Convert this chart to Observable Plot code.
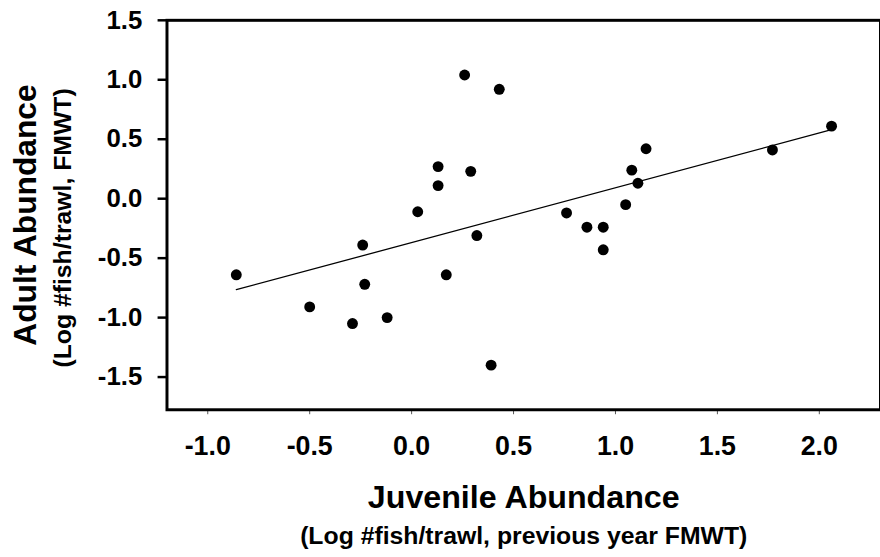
<!DOCTYPE html>
<html>
<head>
<meta charset="utf-8">
<script src="https://cdn.jsdelivr.net/npm/d3@7"></script>
<script src="https://cdn.jsdelivr.net/npm/@observablehq/plot@0.6"></script>
<style>
  html, body { margin: 0; padding: 0; background: white; overflow: hidden; }
</style>
</head>
<body>
<div id="chart"></div>
<script>
// juvenile (previous year) vs adult abundance, log #fish/trawl
const juvenile = [-0.86, -0.50, -0.29, -0.24, -0.23, -0.12, 0.03, 0.13, 0.13, 0.17,
                  0.26, 0.29, 0.32, 0.39, 0.43, 0.76, 0.86, 0.94, 0.94, 1.05,
                  1.08, 1.11, 1.15, 1.77, 2.06];
const adult = [-0.64, -0.91, -1.05, -0.39, -0.72, -1.00, -0.11, 0.27, 0.11, -0.64,
               1.04, 0.23, -0.31, -1.40, 0.92, -0.12, -0.24, -0.24, -0.43, -0.05,
               0.24, 0.13, 0.42, 0.41, 0.61];

const xTicks = [-1.0, -0.5, 0.0, 0.5, 1.0, 1.5, 2.0];
const yTicks = [-1.5, -1.0, -0.5, 0.0, 0.5, 1.0, 1.5];

const xTitle = "Juvenile Abundance";
const xSub = "(Log #fish/trawl, previous year FMWT)";
const yTitle = "Adult Abundance";
const ySub = "(Log #fish/trawl, FMWT)";

const data = juvenile.map((j, i) => ({juvenile: j, adult: adult[i]}));
const fmt = d => d.toFixed(1);

let chart = Plot.plot({
  width: 888,
  height: 557,
  marginLeft: 168,
  marginRight: 0,
  marginTop: 20,
  marginBottom: 144,
  style: {
    fontFamily: "'Liberation Sans', Arial, sans-serif",
    fontWeight: "bold",
    color: "black",
    background: "white"
  },
  x: {domain: [-1.2, 2.3]},
  y: {domain: [-1.775, 1.5]},
  marks: [
    Plot.axisX(xTicks, {tickSize: 5, tickPadding: 21, fontSize: 27, stroke: "#555", strokeWidth: 1, tickFormat: fmt, label: null}),
    Plot.axisY(yTicks, {tickSize: 9, tickPadding: 16, fontSize: 26, strokeWidth: 2.5, tickFormat: fmt, label: null}),
    Plot.linearRegressionY(data, {x: "juvenile", y: "adult", ci: 0, stroke: "black", strokeWidth: 1.3}),
    Plot.dot(data, {x: "juvenile", y: "adult", r: 5.5, fill: "black", stroke: null}),
    Plot.frame({stroke: "black", strokeWidth: 3}),
    Plot.text([xTitle], {text: d => d, frameAnchor: "bottom", lineAnchor: "middle", textAnchor: "middle", dy: 89, fontSize: 32.5, fontWeight: "bold"}),
    Plot.text([xSub], {text: d => d, frameAnchor: "bottom", lineAnchor: "middle", textAnchor: "middle", dy: 127, fontSize: 25, fontWeight: "bold"}),
    Plot.text([yTitle], {text: d => d, frameAnchor: "left", lineAnchor: "middle", textAnchor: "middle", rotate: -90, dx: -142, dy: 0, fontSize: 32, fontWeight: "bold"}),
    Plot.text([ySub], {text: d => d, frameAnchor: "left", lineAnchor: "middle", textAnchor: "middle", rotate: -90, dx: -105, dy: 13, fontSize: 25, fontWeight: "bold"})
  ]
});

d3.select("#chart").append(() => chart);
</script>
</body>
</html>
